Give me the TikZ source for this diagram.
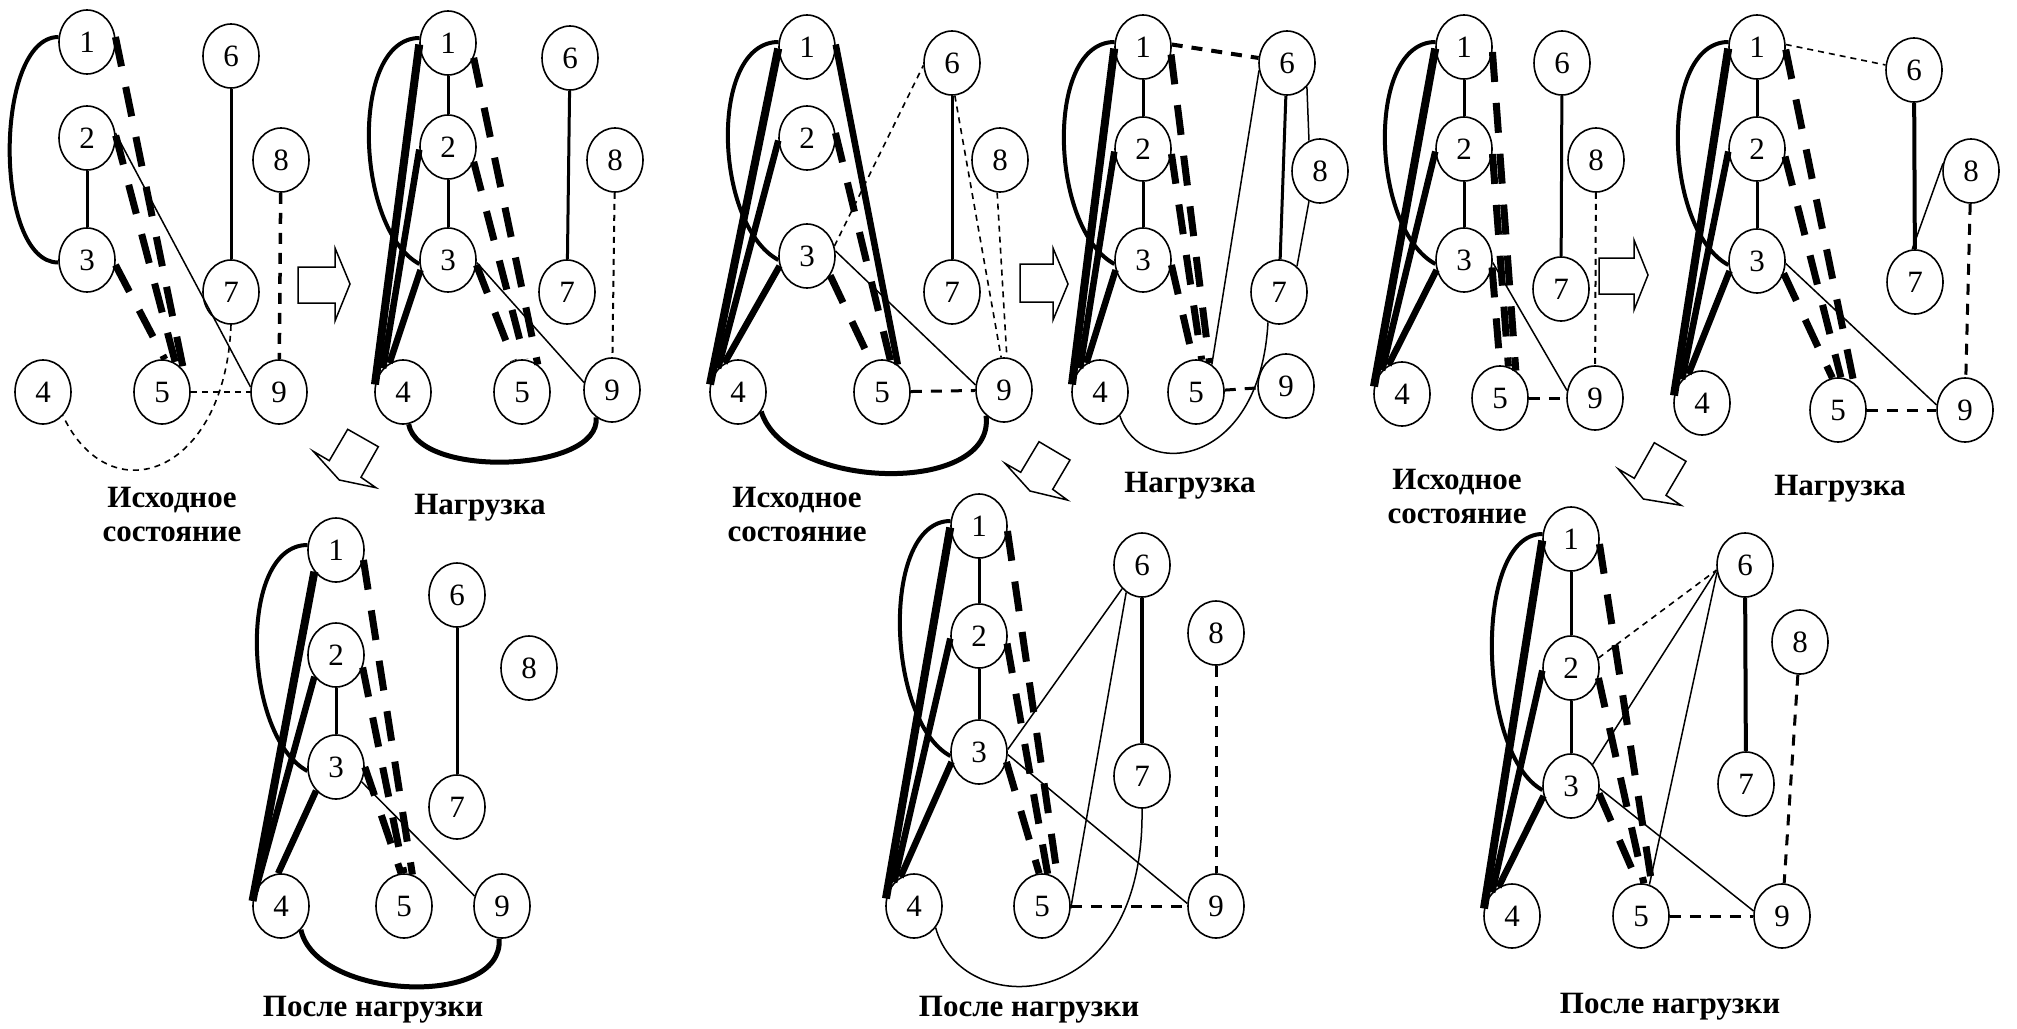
\documentclass[tikz,border=0pt]{standalone}
\usepackage{fontspec}
\setmainfont{Liberation Serif}
\usetikzlibrary{shapes.geometric}
\tikzset{
 vx/.style={draw, ellipse, minimum width=56pt, minimum height=64pt, inner sep=0pt, line width=1.6pt, font=\fontsize{31}{31}\selectfont},
 thk/.style={line width=6.5pt},
 thkk/.style={line width=8pt},
 med/.style={line width=3pt},
 thn/.style={line width=1.5pt},
 arcs/.style={line width=4pt},
 arcb/.style={line width=5pt},
 tdash/.style={line width=7pt, dash pattern=on 30pt off 21pt},
 mdash/.style={line width=3pt, dash pattern=on 11pt off 9pt},
 sdash/.style={line width=1.6pt, dash pattern=on 6pt off 5pt},
 lbl/.style={font=\bfseries\fontsize{31}{34}\selectfont, align=center},
 blk/.style={draw, line width=1.5pt, line join=miter},
}
\begin{document}
\begin{tikzpicture}[x=1pt,y=-1pt]
\useasboundingbox (0,0) rectangle (2017,1028);
% ---------- nodes ----------
\foreach \n/\x/\y in {1/87/42,2/87/138,3/87/260,4/43/392,5/162/392,6/231/56,7/231/292,8/281/160,9/279/392}
  \node[vx] (a\n) at (\x,\y) {\n};
\foreach \n/\x/\y in {1/448/43,2/448/147,3/448/260,4/403/392,5/522/392,6/570/58,7/567/292,8/615/160,9/612/390}
  \node[vx] (b\n) at (\x,\y) {\n};
\foreach \n/\x/\y in {1/807/47,2/807/138,3/807/256,4/738/392,5/882/392,6/952/63,7/952/292,8/1000/160,9/1004/390}
  \node[vx] (c\n) at (\x,\y) {\n};
\foreach \n/\x/\y in {1/1143/47,2/1143/149,3/1143/260,4/1100/392,5/1196/392,6/1287/63,7/1279/292,8/1320/171,9/1286/386}
  \node[vx] (d\n) at (\x,\y) {\n};
\foreach \n/\x/\y in {1/1464/47,2/1464/149,3/1464/260,4/1402/394,5/1500/398,6/1562/63,7/1561/289,8/1596/160,9/1595/398}
  \node[vx] (e\n) at (\x,\y) {\n};
\foreach \n/\x/\y in {1/1757/47,2/1757/149,3/1757/261,4/1702/403,5/1838/410,6/1914/70,7/1915/282,8/1971/171,9/1965/410}
  \node[vx] (f\n) at (\x,\y) {\n};
\foreach \n/\x/\y in {1/336/550,2/336/655,3/336/767,4/281/906,5/404/906,6/457/595,7/457/807,8/529/668,9/502/906}
  \node[vx] (g\n) at (\x,\y) {\n};
\foreach \n/\x/\y in {1/979/526,2/979/636,3/979/752,4/914/906,5/1042/906,6/1142/565,7/1142/776,8/1216/633,9/1216/906}
  \node[vx] (h\n) at (\x,\y) {\n};
\foreach \n/\x/\y in {1/1571/539,2/1571/668,3/1571/786,4/1512/916,5/1641/916,6/1745/565,7/1746/784,8/1800/642,9/1782/916}
  \node[vx] (i\n) at (\x,\y) {\n};
% ---------- labels ----------
\node[lbl] (la) at (172,514) {Исходное\\состояние};
\node[lbl] (lb) at (480,508) {Нагрузка};
\node[lbl] (lc) at (797,514) {Исходное\\состояние};
\node[lbl] (ld) at (1190,486) {Нагрузка};
\node[lbl] (le) at (1457,496) {Исходное\\состояние};
\node[lbl] (lf) at (1840,489) {Нагрузка};
\node[lbl] (lg) at (373,1010) {После нагрузки};
\node[lbl] (lh) at (1029,1010) {После нагрузки};
\node[lbl] (li) at (1670,1007) {После нагрузки};
% ---------- panel a ----------
\draw[arcs] (a1.170) .. controls +(-65,0) and +(-65,0) .. (a3.185);
\draw[med] (a2) -- (a3);
\draw[tdash] (a1.10) -- (a5.45);
\draw[tdash] (a2.5) -- (a5.65);
\draw[tdash] (a3.-10) -- (a5.85);
\draw[thn] (a2.10) -- (a9.170);
\draw[med] (a6) -- (a7);
\draw[mdash, line width=3.5pt] (a8) -- (a9);
\draw[sdash] (a5) -- (a9);
\draw[sdash] (a7.south) .. controls (225,475) and (110,515) .. (a4.-50);
% ---------- panel b ----------
\draw[arcs] (b1.170) .. controls +(-70,0) and +(-65,-35) .. (b3.188);
\draw[thkk] (b1.183) -- (b4.165);
\draw[thk] (b2.185) -- (b4.130);
\draw[thk] (b3.200) -- (b4.115);
\draw[med] (b1) -- (b2);
\draw[med] (b2) -- (b3);
\draw[tdash] (b1.-30) -- (b5.60);
\draw[tdash] (b2.-30) -- (b5.85);
\draw[tdash] (b3.-10) -- (b5.105);
\draw[thn] (b3.-5) -- (b9.165);
\draw[med] (b6) -- (b7);
\draw[sdash, line width=2pt] (b8) -- (b9);
\draw[arcb] (b4.-80) .. controls +(10,55) and +(5,55) .. (b9.-120);
% ---------- panel c ----------
\draw[arcs] (c1.170) .. controls +(-70,0) and +(-65,-35) .. (c3.188);
\draw[thkk] (c1.183) -- (c4.165);
\draw[thk] (c2.185) -- (c4.130);
\draw[thk] (c3.200) -- (c4.115);
\draw[thk] (c1.5) -- (c5.60);
\draw[tdash] (c2.10) -- (c5.75);
\draw[tdash] (c3.-40) -- (c5.110);
\draw[thn] (c3.10) -- (c9.170);
\draw[sdash] (c3.20) -- (c6.185);
\draw[med] (c6) -- (c7);
\draw[sdash] (c6.-85) -- (c9.95);
\draw[sdash] (c8.-95) -- (c9.85);
\draw[mdash] (c5) -- (c9);
\draw[arcb] (c4.-40) .. controls +(25,80) and +(10,80) .. (c9.-125);
% ---------- panel d ----------
\draw[arcs] (d1.170) .. controls +(-70,0) and +(-65,-35) .. (d3.188);
\draw[thkk] (d1.183) -- (d4.165);
\draw[thk] (d2.185) -- (d4.130);
\draw[thk] (d3.200) -- (d4.115);
\draw[med] (d1) -- (d2);
\draw[med] (d2) -- (d3);
\draw[tdash] (d1.-15) -- (d5.65);
\draw[tdash] (d2.-10) -- (d5.80);
\draw[tdash] (d3.-10) -- (d5.95);
\draw[mdash, line width=4pt] (d1.5) -- (d6.170);
\draw[thn] (d6.195) -- (d5.60);
\draw[med] (d6) -- (d7);
\draw[thn] (d6.-50) -- (d8.110);
\draw[thn] (d8.-110) -- (d7.55);
\draw[mdash] (d5) -- (d9);
\draw[thn] (d4.-50) .. controls (1140,480) and (1260,470) .. (d7.-110);
% ---------- panel e ----------
\draw[arcs] (e1.170) .. controls +(-70,0) and +(-65,-35) .. (e3.188);
\draw[thkk] (e1.183) -- (e4.165);
\draw[thk] (e2.185) -- (e4.130);
\draw[thk] (e3.200) -- (e4.115);
\draw[med] (e1) -- (e2);
\draw[med] (e2) -- (e3);
\draw[tdash] (e1.-10) -- (e5.60);
\draw[tdash] (e2.-10) -- (e5.75);
\draw[tdash] (e3.-15) -- (e5.90);
\draw[thn] (e3.-5) -- (e9.165);
\draw[med] (e6) -- (e7);
\draw[sdash, line width=2pt] (e8) -- (e9);
\draw[mdash] (e5) -- (e9);
% ---------- panel f ----------
\draw[arcs] (f1.170) .. controls +(-70,0) and +(-65,-35) .. (f3.188);
\draw[thkk] (f1.183) -- (f4.165);
\draw[thk] (f2.185) -- (f4.130);
\draw[thk] (f3.200) -- (f4.115);
\draw[med] (f1) -- (f2);
\draw[med] (f2) -- (f3);
\draw[tdash] (f1.-5) -- (f5.60);
\draw[tdash] (f2.-15) -- (f5.85);
\draw[tdash] (f3.-25) -- (f5.100);
\draw[sdash] (f1.5) -- (f6.170);
\draw[thn] (f3.-5) -- (f9.170);
\draw[med, line width=4pt] (f6) -- (f7);
\draw[thn] (f7.95) -- (f8.165);
\draw[mdash] (f8) -- (f9);
\draw[mdash] (f5) -- (f9);
% ---------- panel g ----------
\draw[arcs] (g1.170) .. controls +(-70,0) and +(-65,-35) .. (g3.188);
\draw[thkk] (g1.-135) -- (g4.170);
\draw[thk] (g2.-135) -- (g4.150);
\draw[thk] (g3.-130) -- (g4.95);
\draw[med] (g2) -- (g3);
\draw[tdash] (g1.-20) -- (g5.75);
\draw[tdash] (g2.-25) -- (g5.90);
\draw[tdash] (g3.0) -- (g5.95);
\draw[thn] (g3.-30) -- (g9.160);
\draw[med] (g6) -- (g7);
\draw[arcb] (g4.-50) .. controls +(15,70) and +(5,70) .. (g9.-95);
% ---------- panel h ----------
\draw[arcs] (h1.170) .. controls +(-70,0) and +(-65,-35) .. (h3.188);
\draw[thkk] (h1.183) -- (h4.165);
\draw[thk] (h2.185) -- (h4.130);
\draw[thk] (h3.200) -- (h4.115);
\draw[med] (h1) -- (h2);
\draw[med] (h2) -- (h3);
\draw[tdash] (h1.-10) -- (h5.60);
\draw[tdash] (h2.-15) -- (h5.80);
\draw[tdash] (h3.-20) -- (h5.95);
\draw[thn] (h3.5) -- (h6.-130);
\draw[thn] (h6.-120) -- (h5.-5);
\draw[thn] (h3.-5) -- (h9.175);
\draw[med, line width=4pt] (h6) -- (h7);
\draw[mdash] (h8) -- (h9);
\draw[mdash] (h5) -- (h9);
\draw[thn] (h4.-45) .. controls (960,1020) and (1145,1020) .. (h7.-90);
% ---------- panel i ----------
\draw[arcs] (i1.170) .. controls +(-70,0) and +(-65,-35) .. (i3.188);
\draw[thkk] (i1.183) -- (i4.165);
\draw[thk] (i2.185) -- (i4.130);
\draw[thk] (i3.200) -- (i4.115);
\draw[med] (i1) -- (i2);
\draw[med] (i2) -- (i3);
\draw[tdash] (i1.-10) -- (i5.70);
\draw[tdash] (i2.-20) -- (i5.85);
\draw[tdash] (i3.-15) -- (i5.95);
\draw[sdash] (i2.20) -- (i6.190);
\draw[thn] (i3.45) -- (i6.190);
\draw[thn] (i6.195) -- (i5.75);
\draw[thn] (i3.-5) -- (i9.170);
\draw[med, line width=4pt] (i6) -- (i7);
\draw[mdash] (i8) -- (i9);
\draw[mdash] (i5) -- (i9);
% ---------- block arrows ----------
\draw[blk] (298,267) -- (335,267) -- (335,248) -- (350,284) -- (335,321) -- (335,303) -- (298,303) -- cycle;
\draw[blk] (1020,264) -- (1053,264) -- (1053,248) -- (1068,284) -- (1053,320) -- (1053,302) -- (1020,302) -- cycle;
\draw[blk] (1599,258) -- (1634,258) -- (1634,240) -- (1648,275) -- (1634,310) -- (1634,294) -- (1599,294) -- cycle;
\draw[blk] (313.3,451.3) -- (339.3,480) -- (376,487.7) -- (361,477.3) -- (378.3,446.7) -- (347.7,429.3) -- (329.3,460.7) -- cycle;
\draw[blk] (1005,463.3) -- (1030,491) -- (1067.3,500) -- (1052.7,489.3) -- (1070,460) -- (1039,441.7) -- (1020.7,472.3) -- cycle;
\draw[blk] (1618.3,469) -- (1643.3,499) -- (1681,505.3) -- (1666,495.3) -- (1686,461.3) -- (1654.3,442.7) -- (1634.3,478.3) -- cycle;
\end{tikzpicture}
\end{document}
